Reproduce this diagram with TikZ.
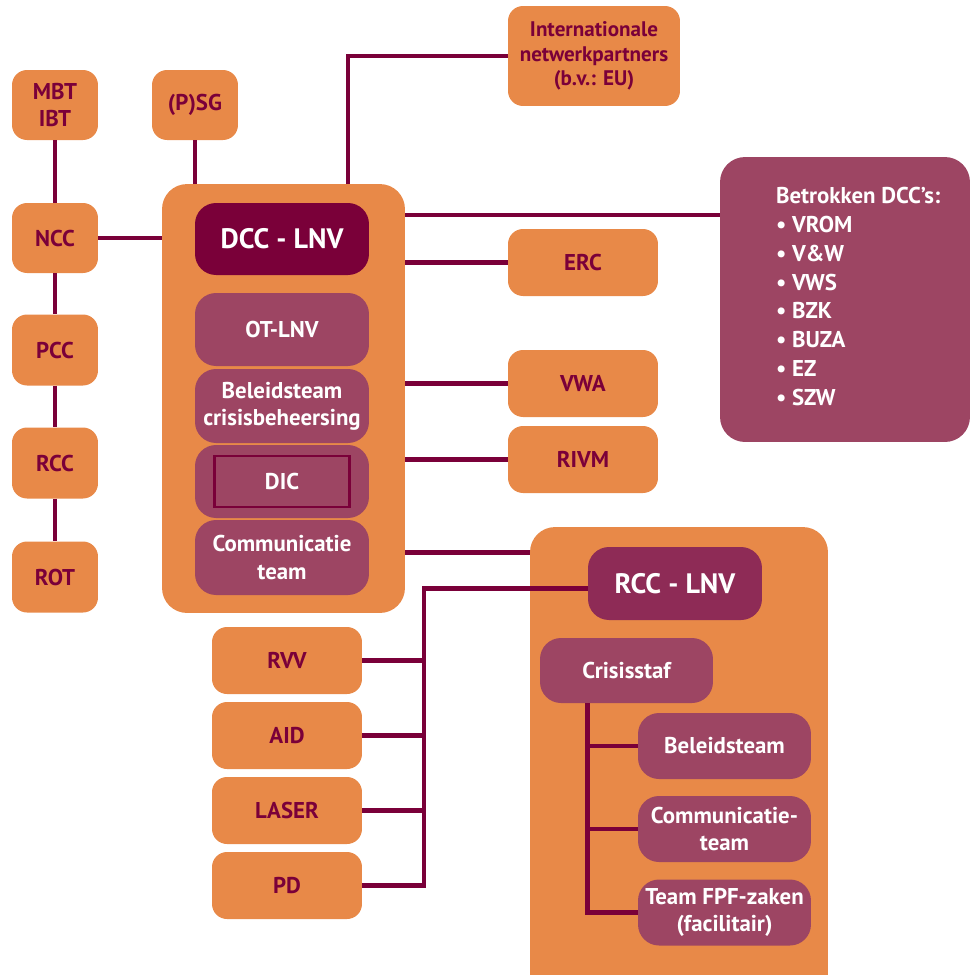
\documentclass[tikz,border=0pt]{standalone}
\usepackage{fontspec}
\setmainfont{PT Sans}
\usetikzlibrary{calc, positioning}

\definecolor{lnvorange}{RGB}{232,137,72}
\definecolor{lnvmaroon}{RGB}{122,0,57}
\definecolor{lnvpurple}{RGB}{157,69,99}
\definecolor{lnvrcc}{RGB}{142,43,86}

\tikzset{
  orangebox/.style={rounded corners=0.3cm, fill=lnvorange, text=lnvmaroon, align=center, inner sep=0pt,
    font=\bfseries\fontsize{13}{15.5}\selectfont},
  purplebox/.style={rounded corners=0.42cm, fill=lnvpurple, text=white, align=center, inner sep=0pt,
    font=\bfseries\fontsize{13}{15.5}\selectfont},
  bigbox/.style={rounded corners=0.5cm, fill=lnvorange, inner sep=0pt},
  link/.style={draw=lnvmaroon, line width=2.8pt},
}

\begin{document}
\begin{tikzpicture}[x=0.02cm, y=-0.02cm]
\useasboundingbox (0,0) rectangle (971,975);

% Left column
\node[orangebox, minimum width=1.72cm, minimum height=1.4cm] (mbt) at (55,105) {MBT\\IBT};
\node[orangebox, minimum width=1.72cm, minimum height=1.4cm] (ncc) at (55,238) {NCC};
\node[orangebox, minimum width=1.72cm, minimum height=1.42cm] (pcc) at (55,350) {PCC};
\node[orangebox, minimum width=1.72cm, minimum height=1.42cm] (rcc) at (55,463) {RCC};
\node[orangebox, minimum width=1.72cm, minimum height=1.42cm] (rot) at (55,577) {ROT};
\node[orangebox, minimum width=1.72cm, minimum height=1.4cm] (psg) at (195,105) {(P)SG};

% The DCC block
\node[bigbox, minimum width=4.86cm, minimum height=8.58cm] (dcc) at (283.5,398.5) {};
\node[purplebox, fill=lnvmaroon, minimum width=3.48cm, minimum height=1.44cm,
  font=\bfseries\fontsize{16}{18}\selectfont] (dcclnv) at (282,239) {DCC - LNV};
\node[purplebox, minimum width=3.48cm, minimum height=1.46cm] (otlnv) at (282,329.5) {OT-LNV};
\node[purplebox, minimum width=3.48cm, minimum height=1.48cm] (beleid) at (282,406) {Beleidsteam\\crisisbeheersing};
\node[purplebox, minimum width=3.48cm, minimum height=1.46cm] (dic) at (282,481.5) {};
\node[purplebox, rounded corners=0pt, draw=lnvmaroon, line width=1.2pt,
  minimum width=2.7cm, minimum height=1.02cm] (dicframe) at (dic) {DIC};
\node[purplebox, minimum width=3.48cm, minimum height=1.5cm] (comm) at (282,557.5) {Communicatie\\team};

% Partners on the right
\node[orangebox, minimum width=3.44cm, minimum height=2cm,
  font=\bfseries\fontsize{12}{13.9}\selectfont] (intl) at (594,56) {Internationale\\netwerkpartners\\(b.v.: EU)};
\node[orangebox, minimum width=3cm, minimum height=1.34cm] (erc) at (583,262.5) {ERC};
\node[orangebox, minimum width=3cm, minimum height=1.34cm] (vwa) at (583,383.5) {VWA};
\node[orangebox, minimum width=3cm, minimum height=1.34cm] (rivm) at (583,459.5) {RIVM};
\node[purplebox, rounded corners=0.5cm, minimum width=5cm, minimum height=5.7cm] (betrokken) at (845,299.5) {};
\node[anchor=west, text=white, align=left, inner sep=0pt,
  font=\bfseries\fontsize{13}{16.4}\selectfont] (betrokkenlist) at ($(betrokken.west)+(56,-3)$)
  {Betrokken DCC’s:\\\textbullet\ VROM\\\textbullet\ V\&W\\\textbullet\ VWS\\\textbullet\ BZK\\\textbullet\ BUZA\\\textbullet\ EZ\\\textbullet\ SZW};

% The RCC block
\node[bigbox, minimum width=5.96cm, minimum height=9.46cm] (rccbox) at (679,763.5) {};
\node[purplebox, fill=lnvrcc, minimum width=3.48cm, minimum height=1.46cm,
  font=\bfseries\fontsize{16}{18}\selectfont] (rcclnv) at (675,583.5) {RCC - LNV};
\node[purplebox, minimum width=3.46cm, minimum height=1.3cm] (crisisstaf) at (626.5,670.5) {Crisisstaf};
\node[purplebox, minimum width=3.46cm, minimum height=1.32cm] (beleidteam) at (724.5,746) {Beleidsteam};
\node[purplebox, minimum width=3.46cm, minimum height=1.32cm] (commteam) at (724.5,829) {Communicatie-\\team};
\node[purplebox, minimum width=3.46cm, minimum height=1.32cm] (fpf) at (724.5,912.5) {Team FPF-zaken\\(facilitair)};

% Services below
\node[orangebox, minimum width=3cm, minimum height=1.34cm] (rvv) at (287,660.5) {RVV};
\node[orangebox, minimum width=3cm, minimum height=1.34cm] (aid) at (287,735.5) {AID};
\node[orangebox, minimum width=3cm, minimum height=1.34cm] (laser) at (287,810.5) {LASER};
\node[orangebox, minimum width=3cm, minimum height=1.34cm] (pd) at (287,885.5) {PD};

% Connections
\draw[link] (mbt.south) -- (ncc.north);
\draw[link] (ncc.south) -- (pcc.north);
\draw[link] (pcc.south) -- (rcc.north);
\draw[link] (rcc.south) -- (rot.north);
\draw[link] (ncc.east) -- (ncc -| dcc.west);
\draw[link] (psg.south) -- (psg.south |- dcc.north);
\draw[link] (intl.west) -| ($(dcc.north)+(64.5,0)$);
\coordinate (dccline) at ($(betrokken.west)+(0,-84.5)$);
\draw[link] (dcc.east |- dccline) -- (dccline);
\draw[link] (erc.west) -- (erc -| dcc.east);
\draw[link] (vwa.west) -- (vwa -| dcc.east);
\draw[link] (rivm.west) -- (rivm -| dcc.east);
\coordinate (rccline) at ($(comm.east)+(0,-5)$);
\draw[link] (rccline -| dcc.east) -- (rccline -| rccbox.west);

% Services to RCC - LNV
\coordinate (busx) at (424,0);
\draw[link] ($(rcclnv.west)+(0,5)$) -| (busx |- pd) -- (pd.east);
\foreach \b in {rvv, aid, laser}
  \draw[link] (\b.east) -- (busx |- \b);

% Crisisstaf tree
\coordinate (trunk) at ($(crisisstaf.south west)+(48,0)$);
\draw[link] (trunk) |- (fpf.west);
\draw[link] (trunk |- beleidteam) -- (beleidteam.west);
\draw[link] (trunk |- commteam) -- (commteam.west);

\end{tikzpicture}
\end{document}
